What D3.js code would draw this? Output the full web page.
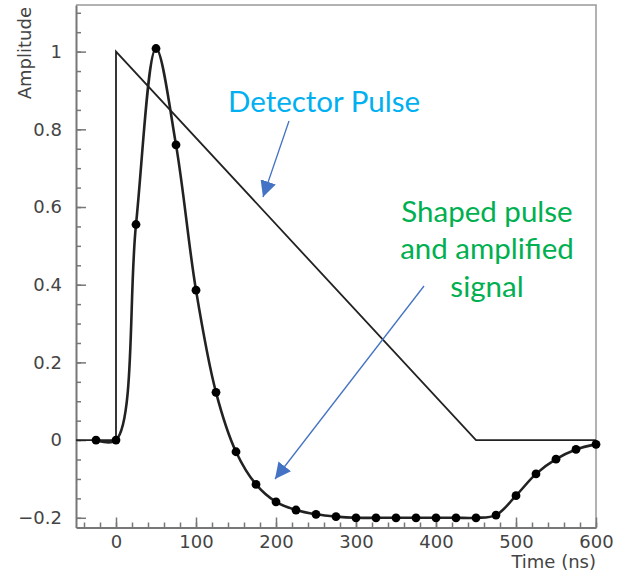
<!DOCTYPE html>
<html>
<head>
<meta charset="utf-8">
<script src="https://cdn.jsdelivr.net/npm/d3@7"></script>
<style>
  body { margin: 0; background: #fff; }
  text { font-family: "DejaVu Sans", sans-serif; }
</style>
</head>
<body>
<svg id="chart" width="625" height="576"></svg>
<script>
// Detector pulse (ns, amplitude)
const pulseTime = [-50, 0, 0, 450, 600];
const pulseAmp = [0, 0, 1, 0, 0];

// Shaped pulse samples every 25 ns
const shapedTime = [-25, 0, 25, 50, 75, 100, 125, 150, 175, 200, 225, 250, 275, 300,
  325, 350, 375, 400, 425, 450, 475, 500, 525, 550, 575, 600];
const shapedAmp = [0, 0, 0.555, 1.008, 0.76, 0.386, 0.123, -0.03, -0.114, -0.159, -0.18, -0.191, -0.197, -0.2,
  -0.2, -0.2, -0.2, -0.2, -0.2, -0.2, -0.193, -0.143, -0.087, -0.049, -0.024, -0.011];

// Tick labels
const xMajor = [0, 100, 200, 300, 400, 500, 600];
const yMajor = [-0.2, 0, 0.2, 0.4, 0.6, 0.8, 1];
const xMinor = d3.range(-40, 601, 20);
const yMinor = d3.range(-4, 23).map(d => d * 0.05);

const svg = d3.select("#chart");

// Scales
const x = d3.scaleLinear().domain([-50, 600]).range([76, 596]);
const y = d3.scaleLinear().domain([-0.225, 1.12]).range([527.5, 5]);

// Frame (top and right)
svg.append("path")
  .attr("d", `M${x(-50)},${y(1.12)}H${x(600)}V${y(-0.225)}`)
  .attr("fill", "none")
  .attr("stroke", "#999")
  .attr("stroke-width", 1.5);

// Minor ticks
svg.append("g")
  .attr("transform", "translate(0," + y(-0.225) + ")")
  .call(d3.axisBottom(x).tickValues(xMinor).tickSize(-5).tickFormat(""))
  .call(g => g.select(".domain").remove())
  .call(g => g.selectAll("line").attr("stroke", "#777").attr("stroke-width", 1.5));
svg.append("g")
  .attr("transform", "translate(" + x(-50) + ",0)")
  .call(d3.axisLeft(y).tickValues(yMinor).tickSize(-5).tickFormat(""))
  .call(g => g.select(".domain").remove())
  .call(g => g.selectAll("line").attr("stroke", "#777").attr("stroke-width", 1.5));

// Major axes
const xAxis = svg.append("g")
  .attr("transform", "translate(0," + y(-0.225) + ")")
  .call(d3.axisBottom(x).tickValues(xMajor).tickSize(-10).tickSizeOuter(0).tickPadding(8));
const yAxis = svg.append("g")
  .attr("transform", "translate(" + x(-50) + ",0)")
  .call(d3.axisLeft(y).tickValues(yMajor).tickSize(-10).tickSizeOuter(0).tickPadding(14)
    .tickFormat(d3.format("~g")));

[xAxis, yAxis].forEach(g => {
  g.select(".domain").attr("stroke", "#777").attr("stroke-width", 2);
  g.selectAll("line").attr("stroke", "#777").attr("stroke-width", 1.5);
  g.selectAll("text")
    .style("font-family", "'DejaVu Sans', sans-serif")
    .style("font-size", "18px")
    .attr("fill", "#444");
});

// Axis titles
svg.append("text")
  .attr("x", 596)
  .attr("y", 568)
  .attr("text-anchor", "end")
  .attr("font-size", 18)
  .attr("fill", "#444")
  .text("Time (ns)");

svg.append("text")
  .attr("transform", "translate(31,7) rotate(-90)")
  .attr("text-anchor", "end")
  .attr("font-size", 18)
  .attr("fill", "#444")
  .text("Amplitude");

// Detector pulse
const pulse = pulseTime.map((t, i) => [t, pulseAmp[i]]);
svg.append("path")
  .datum(pulse)
  .attr("fill", "none")
  .attr("stroke", "#222")
  .attr("stroke-width", 1.8)
  .attr("d", d3.line().x(d => x(d[0])).y(d => y(d[1])));

// Shaped pulse
const shaped = shapedTime.map((t, i) => [t, shapedAmp[i]]);
svg.append("path")
  .datum(shaped)
  .attr("fill", "none")
  .attr("stroke", "#222")
  .attr("stroke-width", 2.6)
  .attr("d", d3.line().curve(d3.curveCatmullRom.alpha(0.5)).x(d => x(d[0])).y(d => y(d[1])));

svg.selectAll(".dot")
  .data(shaped)
  .enter()
  .append("circle")
  .attr("class", "dot")
  .attr("cx", d => x(d[0]))
  .attr("cy", d => y(d[1]))
  .attr("r", 4.4)
  .attr("fill", "#000");

// Annotations
svg.append("defs").append("marker")
  .attr("id", "arrow")
  .attr("viewBox", "0 0 10 10")
  .attr("refX", 10)
  .attr("refY", 5)
  .attr("markerWidth", 16)
  .attr("markerHeight", 16)
  .attr("markerUnits", "userSpaceOnUse")
  .attr("orient", "auto")
  .append("path")
  .attr("d", "M0,0L10,5L0,10Z")
  .attr("fill", "#4472C4");

svg.append("line")
  .attr("x1", 289).attr("y1", 121)
  .attr("x2", 263).attr("y2", 197)
  .attr("stroke", "#4472C4")
  .attr("stroke-width", 1.3)
  .attr("marker-end", "url(#arrow)");

svg.append("line")
  .attr("x1", 424).attr("y1", 286)
  .attr("x2", 275).attr("y2", 479)
  .attr("stroke", "#4472C4")
  .attr("stroke-width", 1.3)
  .attr("marker-end", "url(#arrow)");

svg.append("text")
  .attr("x", 228)
  .attr("y", 111.5)
  .style("font-family", "Lato, 'Open Sans', sans-serif")
  .attr("font-size", 29.5)
  .attr("fill", "#00B0F0")
  .text("Detector Pulse");

const shapedLabel = ["Shaped pulse", "and amplified", "signal"];
svg.selectAll(".shaped-label")
  .data(shapedLabel)
  .enter()
  .append("text")
  .attr("class", "shaped-label")
  .attr("x", 487)
  .attr("y", (d, i) => 221.5 + i * 37.5)
  .attr("text-anchor", "middle")
  .style("font-family", "Lato, 'Open Sans', sans-serif")
  .attr("font-size", 29.5)
  .attr("fill", "#00B050")
  .text(d => d);
</script>
</body>
</html>
